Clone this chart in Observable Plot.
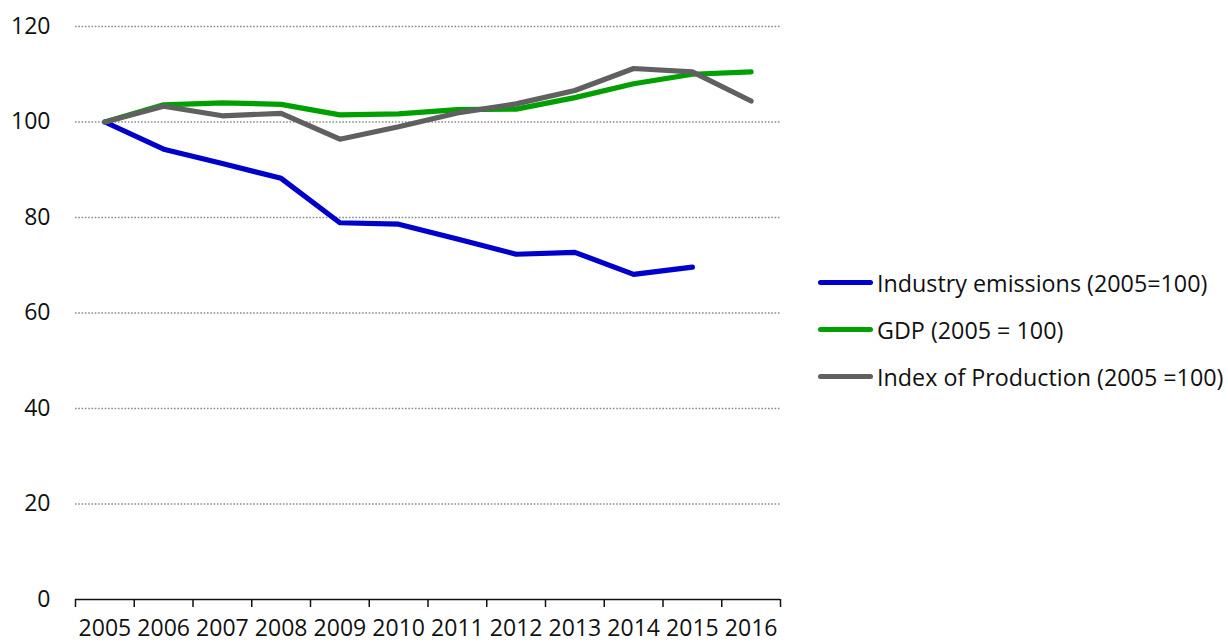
<!DOCTYPE html>
<html>
<head>
<meta charset="utf-8">
<script src="https://cdn.jsdelivr.net/npm/d3@7"></script>
<script src="https://cdn.jsdelivr.net/npm/@observablehq/plot@0.6"></script>
<style>
  html, body { margin: 0; padding: 0; background: #fff; }
  #wrap { position: relative; width: 1228px; height: 644px; font-family: "Open Sans", sans-serif; }
  #chart { position: absolute; left: 0; top: 0; }
  #legend { position: absolute; left: 818px; top: 259px; font-size: 23.3px; color: #111; }
  .item { display: flex; align-items: center; height: 47px; white-space: nowrap; }
  .sw { width: 55px; height: 5px; border-radius: 3px; margin-right: 4px; }
</style>
</head>
<body>
<div id="wrap"><div id="chart"></div><div id="legend"></div></div>
<script>
const years = [2005, 2006, 2007, 2008, 2009, 2010, 2011, 2012, 2013, 2014, 2015, 2016];
const industryEmissions = [100, 94.3, 91.3, 88.2, 78.9, 78.6, 75.5, 72.3, 72.7, 68.1, 69.6, null];
const gdp = [100, 103.6, 104.0, 103.7, 101.5, 101.7, 102.6, 102.7, 105.1, 108.0, 110.0, 110.5];
const indexOfProduction = [100, 103.3, 101.3, 101.8, 96.4, 99.0, 101.9, 103.8, 106.6, 111.2, 110.5, 104.4];
const seriesNames = ["Industry emissions (2005=100)", "GDP (2005 = 100)", "Index of Production (2005 =100)"];
const seriesColors = ["#0000cc", "#00a000", "#606060"];
const yTicks = [0, 20, 40, 60, 80, 100, 120];

const seriesValues = [industryEmissions, gdp, indexOfProduction];
const rows = [];
seriesNames.forEach((name, i) => {
  years.forEach((yr, j) => {
    const v = seriesValues[i][j];
    if (v != null) rows.push({series: name, year: yr, value: v});
  });
});
const boundaries = years.map(y => y - 0.5).concat([years[years.length - 1] + 0.5]);

const plot = Plot.plot({
  width: 800,
  height: 644,
  marginLeft: 75,
  marginRight: 20,
  marginTop: 26,
  marginBottom: 45,
  style: {fontFamily: "'Open Sans', sans-serif", fontSize: "22px", color: "#111", background: "#fff", overflow: "visible"},
  x: {type: "linear", domain: [years[0] - 0.5, years[years.length - 1] + 0.5]},
  y: {domain: [0, 120]},
  color: {domain: seriesNames, range: seriesColors},
  marks: [
    Plot.gridY(yTicks.filter(d => d > 0), {stroke: "#8a8a8a", strokeOpacity: 1, strokeWidth: 1.5, strokeDasharray: "1.6,1.7"}),
    Plot.axisY(yTicks, {tickSize: 0, tickPadding: 25, fontSize: 23, label: null}),
    Plot.ruleY([0], {stroke: "#111", strokeWidth: 1.5}),
    Plot.axisX(boundaries, {tickSize: 8, tickFormat: () => "", label: null, stroke: "#111", strokeWidth: 1.5}),
    Plot.axisX(years, {tickSize: 0, tickPadding: 20, tickFormat: d => String(d), fontSize: 23, label: null}),
    Plot.line(rows, {x: "year", y: "value", z: "series", stroke: "series", strokeWidth: 5.2, strokeLinejoin: "round", strokeLinecap: "round"})
  ]
});
document.getElementById("chart").appendChild(plot);

const legend = document.getElementById("legend");
seriesNames.forEach((name, i) => {
  const item = document.createElement("div");
  item.className = "item";
  const sw = document.createElement("div");
  sw.className = "sw";
  sw.style.background = seriesColors[i];
  const label = document.createElement("span");
  label.textContent = name;
  item.appendChild(sw);
  item.appendChild(label);
  legend.appendChild(item);
});
</script>
</body>
</html>
